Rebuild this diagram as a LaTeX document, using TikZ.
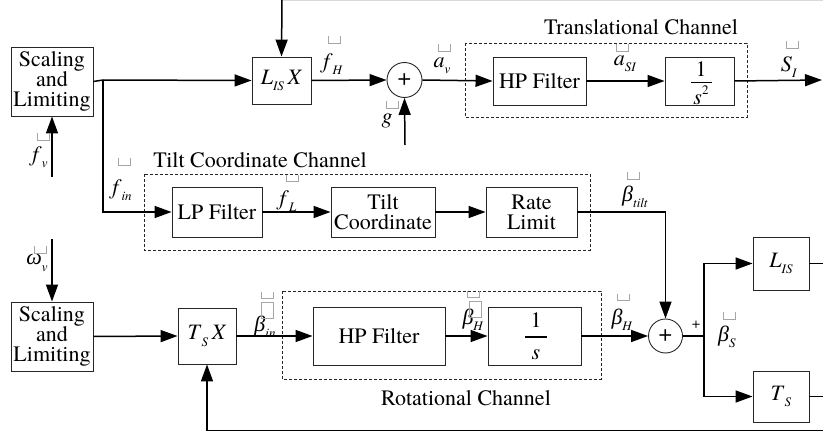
\documentclass[tikz,border=0pt]{standalone}
\usepackage{fontspec}
\setmainfont{texgyretermes}[Extension=.otf, UprightFont=*-regular, ItalicFont=*-italic, BoldFont=*-bold, BoldItalicFont=*-bolditalic]
\newfontfamily\grk{Liberation Serif}
\usetikzlibrary{arrows.meta}
\newcommand{\vv}[2]{\textit{#1}\raisebox{-0.28em}{\fontsize{13}{13}\selectfont\textit{#2}}}
\newcommand{\gv}[2]{{\grk\itshape #1}\raisebox{-0.28em}{\fontsize{13}{13}\selectfont\textit{#2}}}
\tikzset{
  blk/.style={draw=black!85, line width=0.9pt, minimum width=#1, inner sep=0pt, align=center, font=\fontsize{22}{20}\selectfont},
  sumc/.style={draw=black!85, line width=0.9pt, circle, minimum size=35pt, inner sep=0pt},
  chan/.style={draw=black!85, line width=0.8pt, dash pattern=on 3pt off 2pt},
  conn/.style={line width=1.5pt},
  arr/.style={conn, -{Triangle[length=17pt,width=12pt]}},
  lbl/.style={font=\fontsize{22}{20}\selectfont, inner sep=0pt},
  gm/.pic={\draw[black!35, line width=0.7pt] (-6,-3.5) -- (-6,3.5) -- (6,3.5) -- (6,-3.5);},
  gr/.pic={\draw[black!35, line width=0.7pt] (-6,-8) rectangle (6,8);}
}
\begin{document}
\begin{tikzpicture}[x=1pt,y=-1pt]
\useasboundingbox (0,0) rectangle (823,436);
% dashed channel frames
\draw[chan] (465,43) rectangle (747,117);
\draw[chan] (144,174) rectangle (590,250);
\draw[chan] (282,291) rectangle (601,379);
\node[lbl] (ttr) at (641,27) {Translational Channel};
\node[lbl] (ttc) at (260,160) {Tilt Coordinate Channel};
\node[lbl] (trc) at (466,398) {Rotational Channel};
% blocks
\node[blk=82pt, minimum height=69pt] (sc1) at (52,81.5) {Scaling\\and\\Limiting};
\node[blk=59pt, minimum height=47pt] (lisx) at (281.5,80.5) {\vv{L}{IS}\,\textit{X}};
\node[sumc] (sum1) at (404.5,80) {\fontsize{24}{24}\selectfont +};
\node[blk=93pt, minimum height=48pt] (hp1) at (539.5,81) {HP Filter};
\node[blk=69pt, minimum height=48pt] (s2) at (699.5,81) {};
\node[blk=90pt, minimum height=50pt] (lp) at (217,212) {LP Filter};
\node[blk=104pt, minimum height=50pt] (tc) at (383,212) {Tilt\\Coordinate};
\node[blk=91pt, minimum height=50pt] (rl) at (531.5,212) {Rate\\Limit};
\node[blk=82pt, minimum height=69pt] (sc2) at (52,336.5) {Scaling\\and\\Limiting};
\node[blk=58pt, minimum height=56pt] (tsx) at (207,336) {\vv{T}{S}\,\textit{X}};
\node[blk=132pt, minimum height=58pt] (hp2) at (379,336) {HP Filter};
\node[blk=93pt, minimum height=58pt] (s1) at (534.5,336) {};
\node[sumc, minimum size=34pt] (sum2) at (665.5,336) {\fontsize{24}{24}\selectfont +};
\node[blk=56pt, minimum height=53pt] (lis) at (781,263.5) {\vv{L}{IS}};
\node[blk=56pt, minimum height=51pt] (ts) at (781,396.5) {\vv{T}{S}};
% fractions
\node[lbl] (n1a) at (701,69) {1};
\draw[line width=0.9pt] (691,82) -- (712,82);
\node[lbl] (n1b) at (701,95) {\textit{s}\raisebox{0.45em}{\fontsize{13}{13}\selectfont 2}};
\node[lbl] (n2a) at (536,320) {1};
\draw[line width=1.3pt] (525,337) -- (547,337);
\node[lbl] (n2b) at (536,355) {\textit{s}};
% coordinates
\coordinate (topL) at (282,0);
\coordinate (split) at (103,80);
\coordinate (gin) at (405,145);
\coordinate (out1) at (822,80);
\coordinate (fvin) at (52,177);
\coordinate (fin) at (103,212);
\coordinate (tiltc) at (665.5,212);
\coordinate (win) at (52,239);
\coordinate (br) at (704,336);
\coordinate (brt) at (704,263.5);
\coordinate (brb) at (704,396.5);
\coordinate (o2) at (823,263.5);
\coordinate (o3) at (823,396.5);
\coordinate (fbr) at (823,430.5);
\coordinate (fbl) at (207,430.5);
% connectors
\draw[black!15, line width=1pt] (283,0.5) -- (823,0.5);
\draw[arr] (topL) -- (lisx.north);
\draw[conn] (sc1.east) -- (split);
\draw[arr] (split) -- (lisx.west);
\draw[arr] (lisx.east) -- (sum1.west);
\draw[arr] (gin) -- (sum1.south);
\draw[arr] (sum1.east) -- (hp1.west);
\draw[arr] (hp1.east) -- (s2.west);
\draw[arr] (s2.east) -- (out1);
\draw[arr] (fvin) -- (sc1.south);
\draw[arr] (split) -- (fin) -- (lp.west);
\draw[arr] (lp.east) -- (tc.west);
\draw[arr] (tc.east) -- (rl.west);
\draw[arr] (rl.east) -- (tiltc) -- (sum2.north);
\draw[arr] (win) -- (sc2.north);
\draw[arr] (sc2.east) -- (tsx.west);
\draw[arr] (tsx.east) -- (hp2.west);
\draw[arr] (hp2.east) -- (s1.west);
\draw[arr] (s1.east) -- (sum2.west);
\draw[conn] (sum2.east) -- (br);
\draw[arr] (br) -- (brt) -- (lis.west);
\draw[arr] (br) -- (brb) -- (ts.west);
\draw[conn] (lis.east) -- (o2);
\draw[conn] (ts.east) -- (o3);
\draw[arr] (fbr) -- (fbl) -- (tsx.south);
% signal labels
\node[lbl] (lfH) at (333,64) {\vv{f}{H}};
\node[lbl] (lg) at (387,121) {\textit{g}};
\node[lbl] (lfv) at (40,157) {\vv{f}{v}};
\node[lbl] (lfin) at (122,190) {\vv{f}{in}};
\node[lbl] (lfL) at (288,201) {\vv{f}{L}};
\node[lbl] (lav) at (442,66) {\vv{a}{v}};
\node[lbl] (laSI) at (625,64) {\vv{a}{SI}};
\node[lbl] (lSI) at (789,67) {\vv{S}{I}};
\node[lbl] (lbt) at (635,197) {\gv{β}{tilt}};
\node[lbl] (lwv) at (37,263) {\gv{ω}{v}};
\node[lbl] (lbin) at (265,327) {\gv{β}{in}};
\node[lbl] (lbH1) at (473,320) {\gv{β}{H}};
\node[lbl] (lbH2) at (622,320) {\gv{β}{H}};
\node[lbl] (lbS) at (727,337) {\gv{β}{S}};
\node[font=\fontsize{15}{15}\selectfont, inner sep=0pt] (lplus) at (696,325) {+};
% grey marks
\pic at (334.5,40) {gm};
\pic at (392,104.5) {gm};
\pic at (43,136.5) {gm};
\pic at (124,161.5) {gm};
\pic at (292,178) {gm};
\pic at (444.5,47.5) {gm};
\pic at (622.5,47.5) {gm};
\pic at (792.5,44.5) {gm};
\pic at (633.5,175.5) {gm};
\pic at (40.5,249.5) {gm};
\pic at (267,295) {gm};
\pic at (267.5,310) {gr};
\pic at (473.5,294) {gm};
\pic at (475,309.5) {gr};
\pic at (623,297) {gm};
\pic at (729.5,315.5) {gm};
\end{tikzpicture}
\end{document}
